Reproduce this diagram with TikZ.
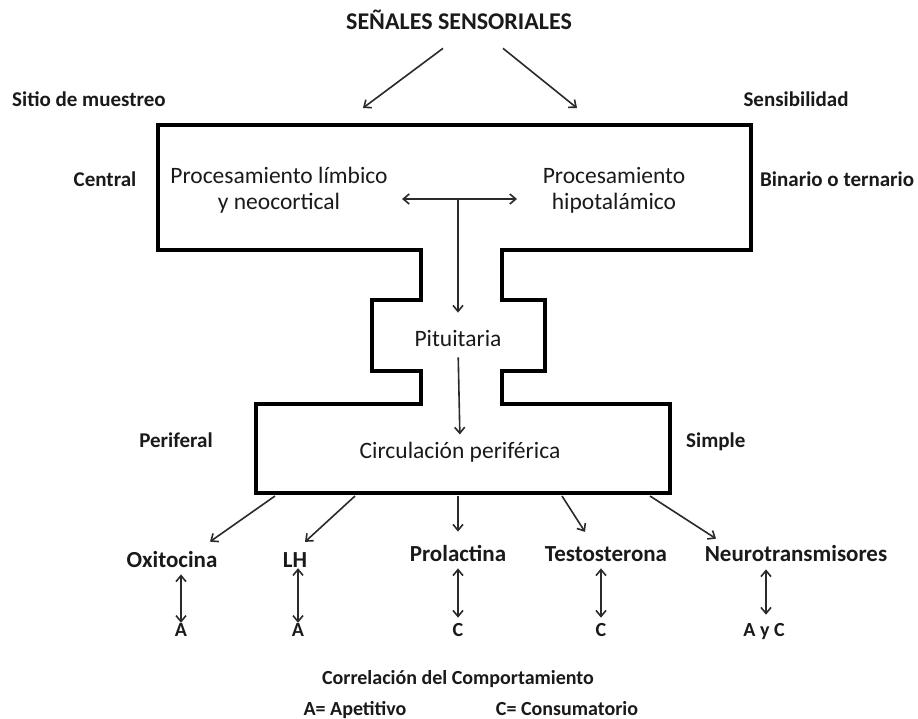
\documentclass[tikz,border=0pt]{standalone}
\usepackage{fontspec}
\setmainfont{Carlito}
\usetikzlibrary{arrows.meta}
\definecolor{txt}{HTML}{1A1A1A}
\definecolor{arrc}{HTML}{2A2A2A}
\tikzset{
  reg/.style={font=\fontsize{23.5}{27}\selectfont, text=txt, inner sep=0pt, align=center},
  side/.style={font=\bfseries\fontsize{21}{25}\selectfont, text=txt, inner sep=0pt, anchor=base},
  horm/.style={font=\bfseries\fontsize{23}{27}\selectfont, text=txt, inner sep=0pt, anchor=base},
  letter/.style={font=\bfseries\fontsize{20}{24}\selectfont, text=txt, inner sep=0pt, anchor=base},
  legend/.style={font=\bfseries\fontsize{20}{24}\selectfont, text=txt, inner sep=0pt, anchor=base},
  outline/.style={draw=black, line width=3.5pt, line join=miter},
  arr/.style={draw=arrc, line width=1.6pt, -{Straight Barb[length=6pt,width=10pt]}},
  darr/.style={draw=arrc, line width=1.6pt, {Straight Barb[length=6pt,width=10pt]}-{Straight Barb[length=6pt,width=10pt]}}
}
\begin{document}
\begin{tikzpicture}[x=1pt,y=-1pt]
\useasboundingbox[fill=white] (0,0) rectangle (918,719);

% outline of the brain-pituitary-periphery shape
\draw[outline] (158,125) -- (751,125) -- (751,250) -- (502,250) -- (502,300)
  -- (545,300) -- (545,371) -- (502,371) -- (502,404) -- (670,404) -- (670,493)
  -- (256,493) -- (256,404) -- (421,404) -- (421,371) -- (372,371) -- (372,300)
  -- (421,300) -- (421,250) -- (158,250) -- cycle;

% title and side labels
\node[side, font=\bfseries\fontsize{24}{28}\selectfont] (title) at (459,30) {SEÑALES SENSORIALES};
\node[side, anchor=base west] (sitio) at (12,107) {Sitio de muestreo};
\node[side] (sens) at (796,107) {Sensibilidad};
\node[side] (central) at (105,187) {Central};
\node[side, anchor=base west] (binario) at (760,187) {Binario o ternario};
\node[side] (perif) at (176,447) {Periferal};
\node[side, anchor=base west] (simple) at (686,447) {Simple};

% inner texts
\node[reg] (limb) at (279,190) {Procesamiento límbico\\[-1pt]y neocortical};
\node[reg] (hipo) at (614,190) {Procesamiento\\[-1pt]hipotalámico};
\node[reg, anchor=base] (pit) at (458,346) {Pituitaria};
\node[reg, anchor=base] (circ) at (460,458) {Circulación periférica};

% sensory arrows
\coordinate (tl) at (363,108);
\coordinate (tr) at (577,108);
\draw[arr] ([xshift=-16pt,yshift=-18pt]title.south) -- (tl);
\draw[arr] ([xshift=44pt,yshift=-18pt]title.south) -- (tr);

% internal arrows
\coordinate (hl) at (402,199);
\coordinate (hr) at (517,199);
\coordinate (hv) at (458,199);
\draw[darr] (hl) -- (hr);
\draw[arr, shorten >=17pt] (hv) -- (pit.north);
\draw[arr, shorten <=11pt, shorten >=7pt] (pit.south) -- (circ.north);

% hormones
\node[horm] (oxi) at (172,567) {Oxitocina};
\node[horm] (lh) at (295,567) {LH};
\node[horm] (prol) at (458,561) {Prolactina};
\node[horm] (testo) at (606,561) {Testosterona};
\node[horm] (neuro) at (796,561) {Neurotransmisores};

\coordinate (b1) at (275,496);
\coordinate (b2) at (355,496);
\coordinate (b3) at (458,496);
\coordinate (b4) at (562,496);
\coordinate (b5) at (650,496);
\draw[arr] (b1) -- ([xshift=38pt,yshift=9pt]oxi.north);
\draw[arr] (b2) -- ([xshift=10pt,yshift=10pt]lh.north);
\draw[arr] (b3) -- ([yshift=13pt]prol.north);
\draw[arr] (b4) -- ([xshift=-21pt,yshift=14pt]testo.north);
\draw[arr] (b5) -- ([xshift=-80pt,yshift=6pt]neuro.north);

% behaviour letters
\node[letter] (la) at (181,636) {A};
\node[letter] (lb) at (298,636) {A};
\node[letter] (lc) at (458,636) {C};
\node[letter] (ld) at (601,636) {C};
\node[letter] (le) at (764,636) {A y C};

\draw[darr, shorten <=7pt] (la.north |- oxi.south) -- (la.north);
\draw[darr, shorten <=1pt] (lb.north |- lh.south) -- (lb.north);
\draw[darr, shorten <=7pt, shorten >=5pt] (lc.north |- prol.south) -- (lc.north);
\draw[darr, shorten <=7pt, shorten >=5pt] (ld.north |- testo.south) -- (ld.north);
\draw[darr, shorten <=8pt, shorten >=8pt] ([xshift=2pt]le.north |- neuro.south) -- ([xshift=2pt]le.north);

% legend
\node[legend] (corr) at (458,684) {Correlación del Comportamiento};
\node[legend] (apet) at (355,715) {A= Apetitivo};
\node[legend] (cons) at (567,715) {C= Consumatorio};
\end{tikzpicture}
\end{document}
